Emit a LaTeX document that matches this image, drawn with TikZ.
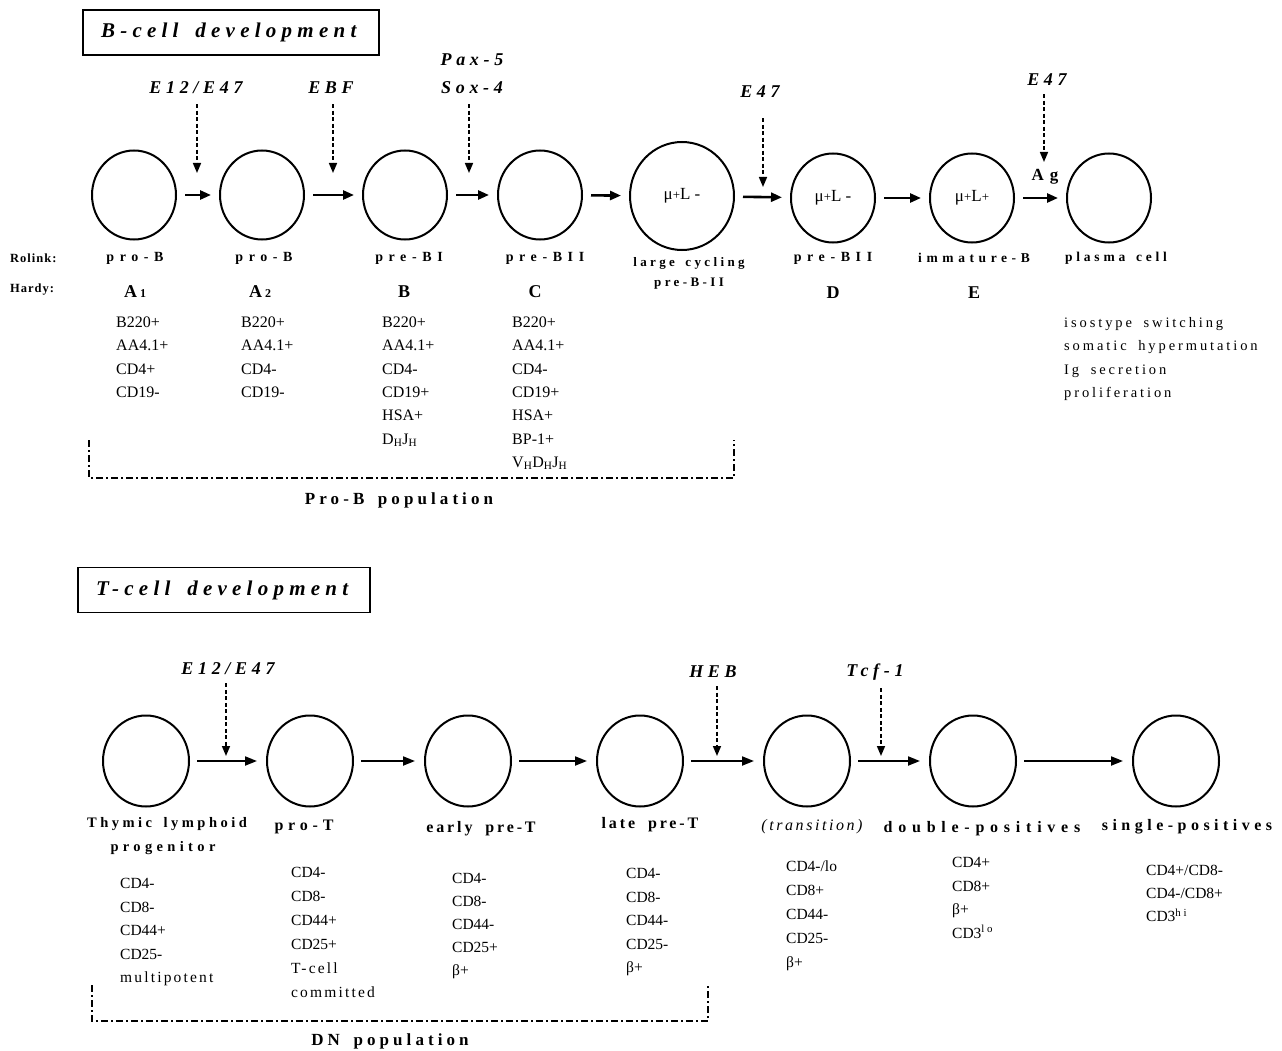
\documentclass[tikz,border=0pt]{standalone}
\usepackage{fontspec}
\setmainfont{Liberation Serif}
\usetikzlibrary{shapes.geometric,arrows.meta}
\newcommand\LS[1]{\addfontfeatures{LetterSpace=#1}}
\newcommand\wsp{\hspace{0.8em}}
\newcommand\mkcol[6]{%
  \foreach \t [count=\i] in {#6}
    \node[#1] (#2\i) at (#3,{#4+#5*(\i-1)}) {\t};}
\newcommand\pl{{\fontsize{13}{13}\selectfont+}}
\tikzset{
  cellS/.style={draw, ellipse, line width=2pt, minimum width=84pt, minimum height=89pt, inner sep=0pt,
    font=\fontsize{17}{18}\selectfont},
  cellL/.style={cellS, minimum width=104pt, minimum height=108pt},
  cellT/.style={cellS, minimum width=86pt, minimum height=91pt},
  arr/.style={line width=2.6pt, -{Triangle[length=11pt,width=9pt]}, shorten <=8pt, shorten >=8pt},
  tarr/.style={line width=2pt, -{Triangle[length=12pt,width=9pt]}, shorten <=7pt, shorten >=9pt},
  darr/.style={line width=1.6pt, dash pattern=on 4pt off 2.5pt, -{Triangle[length=10pt,width=8pt]}},
  titlebox/.style={draw, line width=1.5pt, minimum height=45pt, inner xsep=18pt, inner ysep=0pt, align=left,
    font=\bfseries\itshape\fontsize{21}{24}\selectfont\LS{25}},
  fac/.style={font=\bfseries\itshape\fontsize{18}{28}\selectfont\LS{26}, inner sep=0pt, align=center},
  side/.style={font=\bfseries\fontsize{12.5}{14}\selectfont\LS{8}, anchor=west, inner sep=0pt},
  rol/.style={font=\bfseries\fontsize{14}{20}\selectfont\LS{40}, inner sep=0pt, align=center},
  hardy/.style={font=\bfseries\fontsize{18}{20}\selectfont, inner sep=0pt},
  mk/.style={font=\fontsize{16}{18}\selectfont, anchor=base west, inner sep=0pt},
  mkT/.style={font=\fontsize{15.5}{18}\selectfont, anchor=base west, inner sep=0pt},
  rlist/.style={font=\fontsize{14.5}{18}\selectfont\LS{20}, anchor=base west, inner sep=0pt},
  pop/.style={font=\bfseries\fontsize{17}{20}\selectfont\LS{24}, inner sep=0pt},
  tlab/.style={font=\bfseries\fontsize{16}{19}\selectfont\LS{#1}, inner sep=0pt},
  tlab/.default=30,
  brk/.style={line width=1.3pt, dash pattern=on 7pt off 3pt on 2pt off 3pt}
}
\begin{document}
\begin{tikzpicture}[x=1pt,y=-1pt]
\useasboundingbox (0,0) rectangle (1282,1051);

% ================= B-cell development =================
\node[titlebox, text width=260pt] (btitle) at (231,32.5) {B-cell\wsp development};

% cells
\node[cellS] (b1) at (134,195) {};
\node[cellS] (b2) at (262,195) {};
\node[cellS] (b3) at (405,195) {};
\node[cellS] (b4) at (540,195) {};
\node[cellL] (b5) at (682,196) {μ\pl L -};
\node[cellS] (b6) at (833,198) {μ\pl L -};
\node[cellS] (b7) at (972,198) {μ\pl L\pl};
\node[cellS] (b8) at (1109,198) {};

\draw[arr] (b1) -- (b2);
\draw[arr] (b2) -- (b3);
\draw[arr] (b3) -- (b4);
\draw[arr] (b4) -- (b5);
\draw[arr] (b5) -- (b6);
\draw[arr] (b6) -- (b7);
\draw[arr] (b7) -- (b8);

% factors
\node[fac] (fb1) at (196,88) {E12/E47};
\node[fac] (fb2) at (331,88) {EBF};
\node[fac] (fb3) at (472,74) {Pax-5\\Sox-4};
\node[fac] (fb4) at (760,92) {E47};
\node[fac] (fb5) at (1047,80) {E47};
\node[hardy, font=\bfseries\fontsize{17}{20}\selectfont] (ag) at (1045,177) {A\hspace{0.35em}g};

\coordinate (tb1) at (197,173);
\coordinate (tb2) at (333,173);
\coordinate (tb3) at (469,173);
\coordinate (tb4) at (763,187);
\coordinate (tb5) at (1044,162);
\draw[darr, shorten <=10pt] (tb1 |- fb1.south) -- (tb1);
\draw[darr, shorten <=10pt] (tb2 |- fb2.south) -- (tb2);
\draw[darr, shorten <=10pt] (tb3 |- fb3.south) -- (tb3);
\draw[darr, shorten <=20pt] (tb4 |- fb4.south) -- (tb4);
\draw[darr, shorten <=8pt] (tb5 |- fb5.south) -- (tb5);

% Rolink row
\node[side] (rolink) at (10,258) {Rolink:};
\node[rol] (r1) at (135,258) {pro-B};
\node[rol] (r2) at (264,258) {pro-B};
\node[rol] (r3) at (409,258) {pre-BI};
\node[rol] (r4) at (545,258) {pre-BII};
\node[rol, font=\bfseries\fontsize{13}{20}\selectfont\LS{26}] (r5) at (689,273) {large\wsp cycling\\pre-B-II};
\node[rol] (r6) at (833,258) {pre-BII};
\node[rol, font=\bfseries\fontsize{13.5}{20}\selectfont\LS{34}] (r7) at (974,258) {immature-B};
\node[rol, font=\bfseries\fontsize{13.5}{20}\selectfont\LS{28}] (r8) at (1116,258) {plasma\wsp cell};

% Hardy row
\node[side] (hardy) at (10,290) {Hardy:};
\node[hardy] (h1) at (135,292) {A\,{\fontsize{12}{12}\selectfont 1}};
\node[hardy] (h2) at (260,292) {A\,{\fontsize{12}{12}\selectfont 2}};
\node[hardy] (h3) at (404,292) {B};
\node[hardy] (h4) at (535,292) {C};
\node[hardy] (h5) at (833,293) {D};
\node[hardy] (h6) at (974,293) {E};

% markers
\mkcol{mk}{ma}{116}{327.5}{23.3}{B220+,AA4.1+,CD4+,CD19-}
\mkcol{mk}{mb}{241}{327.5}{23.3}{B220+,AA4.1+,CD4-,CD19-}
\mkcol{mk}{mc}{382}{327.5}{23.3}{B220+,AA4.1+,CD4-,CD19+,HSA+,D\textsubscript{H}J\textsubscript{H}}
\mkcol{mk}{md}{512}{327.5}{23.3}{B220+,AA4.1+,CD4-,CD19+,HSA+,BP-1+,V\textsubscript{H}D\textsubscript{H}J\textsubscript{H}}

\mkcol{rlist}{pl}{1064}{327}{23.5}{isostype\wsp switching,somatic\wsp hypermutation,Ig\wsp secretion,proliferation}

% Pro-B population bracket
\draw[brk] (89,440) -- (89,478) -- (734,478) -- (734,440);
\node[pop] (probpop) at (399,500) {Pro-B\wsp population};

% ================= T-cell development =================
\node[titlebox, text width=256pt] (ttitle) at (224,590) {T-cell\wsp development};

\node[cellT] (t1) at (146,761) {};
\node[cellT] (t2) at (310,761) {};
\node[cellT] (t3) at (468,761) {};
\node[cellT] (t4) at (640,761) {};
\node[cellT] (t5) at (807,761) {};
\node[cellT] (t6) at (973,761) {};
\node[cellT] (t7) at (1176,761) {};

\draw[tarr] (t1) -- (t2);
\draw[tarr] (t2) -- (t3);
\draw[tarr] (t3) -- (t4);
\draw[tarr] (t4) -- (t5);
\draw[tarr] (t5) -- (t6);
\draw[tarr] (t6) -- (t7);

\node[fac] (ft1) at (228,669) {E12/E47};
\node[fac] (ft2) at (713,672) {HEB};
\node[fac] (ft3) at (875,672) {Tcf-1};
\coordinate (tt1) at (226,756);
\coordinate (tt2) at (717,756);
\coordinate (tt3) at (881,756);
\draw[darr, shorten <=8pt] (tt1 |- ft1.south) -- (tt1);
\draw[darr, shorten <=8pt] (tt2 |- ft2.south) -- (tt2);
\draw[darr, shorten <=8pt] (tt3 |- ft3.south) -- (tt3);

% T labels
\node[tlab, font=\bfseries\fontsize{14.5}{19}\selectfont\LS{24}] (l1a) at (167,824) {Thymic\wsp lymphoid};
\node[tlab, font=\bfseries\fontsize{14.5}{19}\selectfont\LS{30}] (l1b) at (163,848) {progenitor};
\node[tlab=30] (l2) at (304,827) {pro-T};
\node[tlab=18] (l3) at (481,829) {early\wsp pre-T};
\node[tlab=18] (l4) at (650,825) {late\wsp pre-T};
\node[font=\itshape\fontsize{16}{19}\selectfont\LS{16}, inner sep=0pt] (l5) at (812,827) {(transition)};
\node[tlab=36] (l6) at (982,829) {double-positives};
\node[tlab=28] (l7) at (1187,827) {single-positives};

% T markers
\mkcol{mkT}{na}{120}{888.5}{23.5}{CD4-,CD8-,CD44+,CD25-,{\LS{14}multipotent}}
\mkcol{mkT}{nb}{291}{877.5}{24}{CD4-,CD8-,CD44+,CD25+,{\LS{14}T-cell},{\LS{14}committed}}
\mkcol{mkT}{nc}{452}{883.5}{23}{CD4-,CD8-,CD44-,CD25+,β+}
\mkcol{mkT}{nd}{626}{878.5}{23.5}{CD4-,CD8-,CD44-,CD25-,β+}
\mkcol{mkT}{ne}{786}{871.5}{24}{CD4-/lo,CD8+,CD44-,CD25-,β+}
\mkcol{mkT}{nf}{952}{867.5}{23.5}{CD4+,CD8+,β+,CD3\textsuperscript{l o}}
\mkcol{mkT}{ng}{1146}{875.5}{23}{CD4+/CD8-,CD4-/CD8+,CD3\textsuperscript{h i}}

% DN population bracket
\draw[brk] (92,985) -- (92,1021) -- (708,1021) -- (708,985);
\node[pop] (dnpop) at (390,1041) {DN\wsp population};
\end{tikzpicture}
\end{document}
